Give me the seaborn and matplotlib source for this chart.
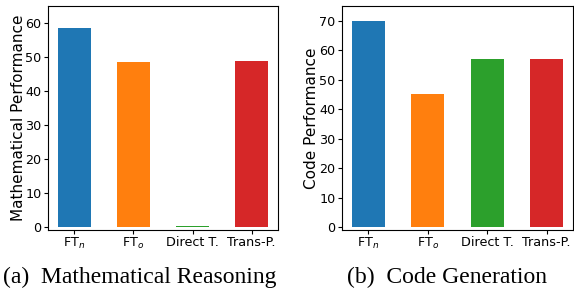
import pandas as pd
import numpy as np
import matplotlib
matplotlib.use("Agg")
import matplotlib.pyplot as plt
import seaborn as sns

# data
methods = ["FT$_n$", "FT$_o$", "Direct T.", "Trans-P."]
math_perf = [58.5, 48.6, 0.3, 48.9]
code_perf = [70.0, 45.1, 57.1, 57.1]
colors = ["#1f77b4", "#ff7f0e", "#2ca02c", "#d62728"]

sns.set_style("ticks")
plt.rcParams["font.family"] = ["DejaVu Sans"]
plt.rcParams["text.color"] = "black"
plt.rcParams["xtick.color"] = "black"
plt.rcParams["ytick.color"] = "black"
plt.rcParams["axes.labelcolor"] = "black"

fig = plt.figure(figsize=(5.74, 2.96), dpi=100)
W, H = 574, 296
ax1 = fig.add_axes([47.7 / W, (H - 230) / H, 230.6 / W, 224 / H])
ax2 = fig.add_axes([341.7 / W, (H - 230) / H, 231.6 / W, 224 / H])

df_math = pd.DataFrame({"method": methods, "score": math_perf})
df_code = pd.DataFrame({"method": methods, "score": code_perf})

panels = [
    (ax1, df_math, "Mathematical Performance", (-1, 65.1), [0, 10, 20, 30, 40, 50, 60], -0.127),
    (ax2, df_code, "Code Performance", (-1, 75.1), [0, 10, 20, 30, 40, 50, 60, 70], -0.132),
]
for ax, d, ylab, ylim, yt, lx in panels:
    sns.barplot(data=d, x="method", y="score", hue="method", palette=colors,
                width=0.55, legend=False, saturation=1, linewidth=0, ax=ax)
    ax.set_xlim(-0.45, 3.45)
    ax.set_ylim(*ylim)
    ax.set_yticks(yt)
    ax.set_xlabel("")
    ax.set_ylabel(ylab, fontsize=11, va="center")
    ax.yaxis.set_label_coords(lx, 0.5)
    ax.tick_params(labelsize=9.2, length=3, width=0.8, pad=1.5)
    for s in ax.spines.values():
        s.set_visible(True)
        s.set_linewidth(0.8)
        s.set_color("black")

fig.text(140 / W, 1 - 283 / H, "(a)  Mathematical Reasoning", ha="center", va="baseline",
         family="Liberation Serif", fontsize=17)
fig.text(447 / W, 1 - 283 / H, "(b)  Code Generation", ha="center", va="baseline",
         family="Liberation Serif", fontsize=17)

fig.savefig("out.png", dpi=100)
